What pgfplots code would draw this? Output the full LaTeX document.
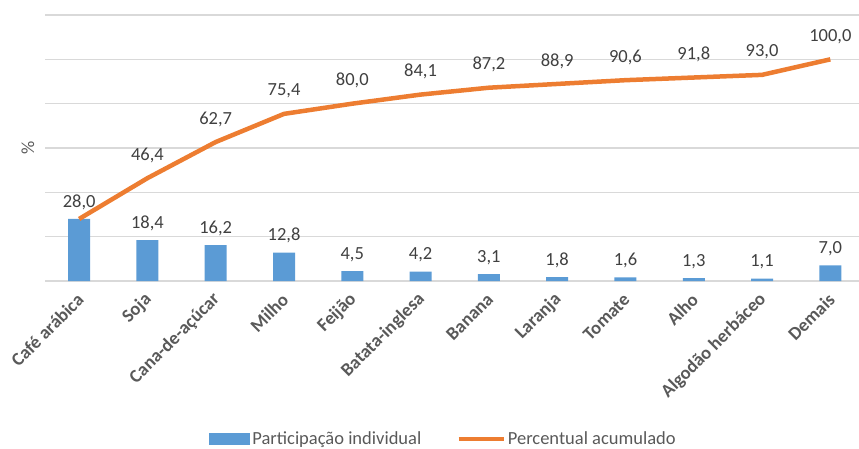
\documentclass[border=0pt]{standalone}
\usepackage{pgfplots}
\pgfplotsset{compat=1.18}
\usepackage{pgfplotstable}
\usepackage{fontspec}
\setmainfont{Carlito}

\definecolor{barblue}{HTML}{5B9BD5}
\definecolor{lineorange}{HTML}{ED7D31}
\definecolor{gridgray}{HTML}{D9D9D9}
\definecolor{labeltext}{HTML}{404040}
\definecolor{axistext}{HTML}{595959}

% individual share and cumulative share per crop
\pgfplotstableread{
x ind cum
0 28.0 28.0
1 18.4 46.4
2 16.2 62.7
3 12.8 75.4
4 4.5 80.0
5 4.2 84.1
6 3.1 87.2
7 1.8 88.9
8 1.6 90.6
9 1.3 91.8
10 1.1 93.0
11 7.0 100.0
}\datatable

\begin{document}
\begin{tikzpicture}[x=1pt,y=1pt]
\path[use as bounding box] (0,0) rectangle (859,-448);
\begin{axis}[
  at={(45pt,-281pt)}, anchor=south west,
  width=814pt, height=266pt, scale only axis,
  xmin=-0.5, xmax=11.42,
  ymin=0, ymax=120,
  ytick={0,20,...,120},
  yticklabels={},
  ymajorgrids,
  grid style={gridgray, line width=1.5pt},
  axis line style={draw=none},
  major tick length=0pt,
  xtick={0,...,11},
  xticklabels={Café arábica,Soja,Cana-de-açúcar,Milho,Feijão,Batata-inglesa,Banana,Laranja,Tomate,Alho,Algodão herbáceo,Demais},
  xticklabel style={yshift=-15pt, xshift=2pt, rotate=45, anchor=east, font=\fontsize{18.5}{20}\selectfont\bfseries, text=axistext, inner sep=1pt},
  ylabel={\%},
  every axis y label/.style={at={(axis description cs:0,0.5)}, xshift=-17pt, rotate=90, anchor=center,
    font=\fontsize{18.5}{22}\selectfont, text=axistext},
  /pgf/number format/assume math mode=true,
  nodes near coords style={font=\fontsize{18.5}{22}\selectfont, text=labeltext},
  legend style={draw=none, fill=none, at={(0.4896,-0.594)}, anchor=center,
    legend columns=2, font=\fontsize{18.5}{22}\selectfont, text=axistext,
    /tikz/every even column/.append style={column sep=33pt},
    legend cell align=left},
  clip=false,
]
% bars of individual participation
\addplot[ybar, bar width=22pt, fill=barblue, draw=none,
  legend image code/.code={\fill[barblue] (0pt,-6pt) rectangle (41pt,6pt);},
  nodes near coords={\pgfmathprintnumber[fixed,fixed zerofill,precision=1,use comma]{\pgfplotspointmeta}},
  nodes near coords align={above}, every node near coord/.append style={yshift=6pt}]
  table[x=x, y=ind] {\datatable};
\addlegendentry{Participação individual}
% cumulative percentage line
\addplot[lineorange, line width=4.5pt, mark=none, line join=round,
  legend image code/.code={\draw[lineorange, line width=4.5pt] (0pt,0pt) -- (45pt,0pt);}]
  table[x=x, y=cum] {\datatable};
\addlegendentry{Percentual acumulado}
% value labels on the cumulative line
\addplot[draw=none, mark=none, forget plot,
  skip coords between index={0}{1},
  nodes near coords={\pgfmathprintnumber[fixed,fixed zerofill,precision=1,use comma]{\pgfplotspointmeta}},
  nodes near coords align={above}, every node near coord/.append style={yshift=12pt}]
  table[x=x, y=cum] {\datatable};
\end{axis}
\end{tikzpicture}
\end{document}
